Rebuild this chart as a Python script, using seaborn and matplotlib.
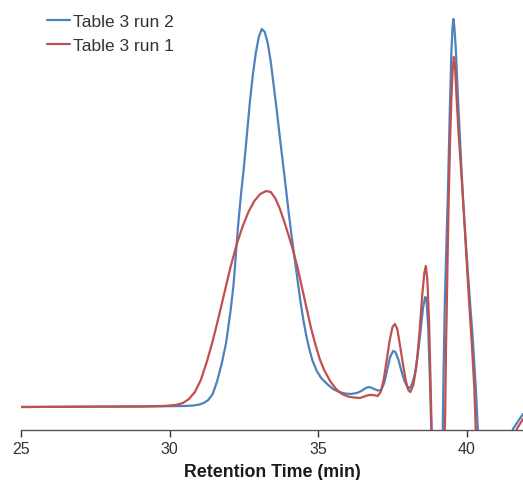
import matplotlib
matplotlib.use("Agg")
import matplotlib.pyplot as plt
import pandas as pd
import seaborn as sns

# chromatogram traces (time in min, detector signal)
run2_time = [25.0, 27.0, 29.0, 30.0, 30.5, 30.8, 31.0, 31.15, 31.3, 31.45, 31.6, 31.75, 31.9,
             32.05, 32.15, 32.2, 32.3, 32.4, 32.5, 32.6, 32.7, 32.8, 32.9, 33.0, 33.1, 33.2,
             33.3, 33.4, 33.5, 33.6, 33.7, 33.8, 33.9, 34.0, 34.1, 34.2, 34.3, 34.4, 34.5,
             34.6, 34.7, 34.8, 34.95, 35.1, 35.3, 35.5, 35.7, 35.9, 36.1, 36.3, 36.45, 36.6,
             36.72, 36.85, 37.0, 37.12, 37.22, 37.32, 37.42, 37.52, 37.6, 37.7, 37.8, 37.9,
             38.0, 38.08, 38.16, 38.25, 38.35, 38.45, 38.53, 38.6, 38.64, 38.7, 38.76, 38.82,
             39.0, 39.15, 39.19, 39.22, 39.26, 39.31, 39.36, 39.43, 39.48, 39.52, 39.55,
             39.58, 39.63, 39.7, 39.8, 39.87, 40.0, 40.1, 40.2, 40.3, 40.37, 40.5, 41.2,
             41.55, 41.89]
run2_signal = [0, 0.3, 0.5, 0.8, 1, 1.5, 2.5, 4, 7, 13, 26, 43, 64,
               96, 122, 141, 180, 212, 240, 272, 305, 332, 354, 370, 378, 375,
               364, 346, 322, 298, 272, 247, 222, 196, 172, 150, 128, 106, 87,
               71, 58, 47, 36, 29, 23, 18, 15, 13.5, 13, 14, 16, 19,
               20, 18.5, 16.5, 17, 24, 37, 50, 56, 55, 47, 36, 26,
               20, 19, 23, 33, 52, 78, 100, 110, 108, 80, 25, -40,
               -300, -60, -22, 40, 105, 160, 210, 300, 355, 380, 388,
               380, 358, 310, 250, 208, 150, 108, 68, 20, -22, -150, -150,
               -22, -7]

run1_time = [25.0, 27.0, 29.0, 29.8, 30.2, 30.45, 30.65, 30.85, 31.05, 31.25, 31.45, 31.65,
             31.85, 32.05, 32.25, 32.45, 32.65, 32.85, 33.05, 33.25, 33.4, 33.55, 33.7,
             33.85, 34.0, 34.15, 34.3, 34.45, 34.6, 34.75, 34.9, 35.05, 35.2, 35.4, 35.6,
             35.8, 36.0, 36.2, 36.4, 36.55, 36.7, 36.85, 37.0, 37.1, 37.2, 37.3, 37.4,
             37.5, 37.58, 37.66, 37.75, 37.85, 37.95, 38.03, 38.1, 38.2, 38.3, 38.4, 38.5,
             38.57, 38.62, 38.67, 38.73, 38.78, 38.83, 39.0, 39.23, 39.27, 39.3, 39.33,
             39.36, 39.39, 39.44, 39.48, 39.52, 39.56, 39.6, 39.65, 39.72, 39.8, 39.87,
             39.97, 40.07, 40.17, 40.25, 40.3, 40.4, 41.3, 41.68, 41.89]
run1_signal = [0, 0.3, 0.5, 1, 2, 4, 8, 15, 27, 45, 66, 90,
               115, 140, 162, 180, 195, 206, 213, 216, 215, 209, 199,
               186, 172, 157, 140, 120, 100, 80, 63, 48, 37, 26, 18,
               13, 10.5, 9.5, 9, 10.5, 12, 12, 11, 15, 27, 46, 66,
               80, 83, 78, 62, 43, 26, 17, 15, 22, 40, 72, 112,
               134, 141, 128, 85, 25, -40, -300, -60, -10, 60, 108,
               160, 208, 270, 308, 335, 350, 343, 312, 275, 240, 210,
               158, 108, 62, 20, -22, -100, -150, -22, -12]

run_labels = ["Table 3 run 2", "Table 3 run 1"]
run_colors = ["#4F81BD", "#C0504D"]

sns.set_style("white")
plt.rcParams["font.family"] = ["Liberation Sans", "DejaVu Sans"]

fig = plt.figure(figsize=(5.23, 4.81), dpi=100)
ax = fig.add_axes([21 / 523, 50.3 / 481, 502 / 523, 425.7 / 481])

traces = [(run2_time, run2_signal), (run1_time, run1_signal)]
for (t, s), lab, col in zip(traces, run_labels, run_colors):
    df = pd.DataFrame({"time": t, "signal": s})
    sns.lineplot(data=df, x="time", y="signal", ax=ax, color=col, lw=1.6, label=lab)

ax.set_xlim(25, 41.89)
ax.set_ylim(-22.7, 403)
ax.set_xticks([25, 30, 35, 40])
ax.set_yticks([])
ax.set_ylabel("")
ax.set_xlabel("Retention Time (min)", fontsize=12.8, fontweight="bold", color="#1a1a1a", labelpad=5)
ax.tick_params(axis="x", direction="out", length=5, width=1, color="#333333",
               labelsize=11.5, labelcolor="#333333", pad=3, bottom=True)
for side in ["left", "right", "top"]:
    ax.spines[side].set_visible(False)
ax.spines["bottom"].set_color("#555555")
ax.spines["bottom"].set_linewidth(1)

ax.legend(loc="upper left", bbox_to_anchor=(47 / 523, 1 - 14.5 / 481), bbox_transform=fig.transFigure,
          frameon=False, fontsize=12.5, handlelength=1.32, handletextpad=0.17,
          borderpad=0, borderaxespad=0, labelspacing=0.54, labelcolor="#333333")

fig.savefig("out.png", dpi=100)
